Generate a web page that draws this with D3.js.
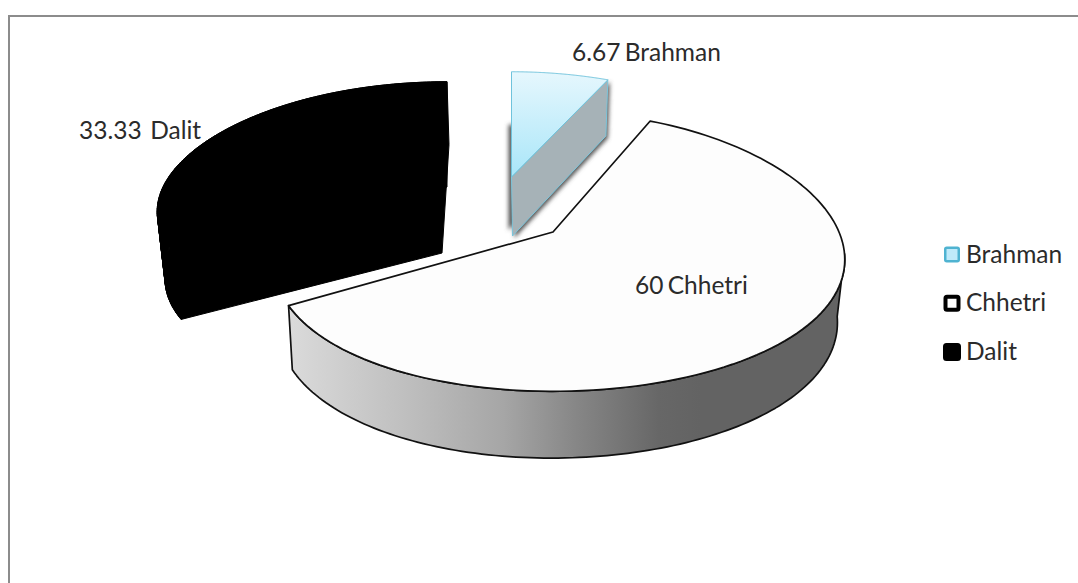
<!DOCTYPE html>
<html>
<head>
<meta charset="utf-8">
<title>Caste distribution</title>
<script src="https://cdn.jsdelivr.net/npm/d3@7"></script>
<style>
  html, body { margin: 0; padding: 0; background: #fff; }
  svg { display: block; }
  text { font-family: Lato, "Open Sans", sans-serif; fill: #2b2b2b; }
</style>
</head>
<body>
<div id="chart"></div>
<script>
// Share of respondents per caste group, in percent.
const categories = ["Brahman", "Chhetri", "Dalit"];
const shares = [6.67, 60, 33.33];
const valueLabels = ["6.67 Brahman", "60 Chhetri", "33.33  Dalit"];

const width = 1078, height = 583;

// Tilted disc with mild perspective: depth v runs from -1 (near) to +1 (far).
const perspectiveX = 0.2, perspectiveY = 0.14;
function topPoint(slice, a) {
  const s = Math.sin(a), v = Math.cos(a);
  return [
    slice.cx + (slice.r * s + slice.skew * s * s) / (1 + perspectiveX * v),
    slice.cy - slice.h * v / (1 + perspectiveY * v)
  ];
}
// The underside of the disc sits lower and is slightly narrower.
function lowPoint(slice, a) {
  const [x, y] = topPoint(slice, a);
  return [slice.cx + (x - slice.cx) * 0.98 + slice.rimDx, slice.cy + (y - slice.cy) * 1.03 + slice.depth];
}
const rimSteps = (a0, a1) => d3.range(0, 121).map(i => a0 + (a1 - a0) * i / 120);
const lineGen = d3.line();

// Each exploded wedge has its own hub on the page.
const layout = {
  Brahman: { cx: 511.5, cy: 177, r: 280, skew: 0, h: 120, depth: 59, rimDx: 0, apexDx: 1 },
  Chhetri: { cx: 553, cy: 232, r: 280, skew: 6, h: 137, depth: 62, rimDx: -1.5, apexDx: 0 },
  Dalit:   { cx: 447, cy: 187, r: 284, skew: 0, h: 120, depth: 66, rimDx: 2, apexDx: -5 }
};

const arcs = d3.pie().sort(null).value(d => d)(shares);
const wedge = name => {
  const arc = arcs[categories.indexOf(name)];
  return { slice: layout[name], a0: arc.startAngle, a1: arc.endAngle };
};

const svg = d3.select("#chart").append("svg").attr("width", width).attr("height", height);
const defs = svg.append("defs");

const topBlue = defs.append("linearGradient").attr("id", "blueFace")
  .attr("x1", 0).attr("y1", 0).attr("x2", 0).attr("y2", 1);
topBlue.append("stop").attr("offset", 0).attr("stop-color", "#e6f7fd");
topBlue.append("stop").attr("offset", 1).attr("stop-color", "#a9e6f9");

const wall = defs.append("linearGradient").attr("id", "wallShade")
  .attr("gradientUnits", "userSpaceOnUse").attr("x1", 290).attr("y1", 0).attr("x2", 700).attr("y2", 0);
[[0, "#dadada"], [0.27, "#c0c0c0"], [0.52, "#a6a6a6"], [0.7, "#868686"], [0.9, "#676767"], [1, "#636363"]]
  .forEach(([o, c]) => wall.append("stop").attr("offset", o).attr("stop-color", c));

defs.append("filter").attr("id", "softShadow").attr("x", "-30%").attr("y", "-30%").attr("width", "160%").attr("height", "160%")
  .append("feGaussianBlur").attr("stdDeviation", 2);

// Outer frame, running off the right and bottom edges.
svg.append("path").attr("d", "M9,583V16H1078").attr("fill", "none").attr("stroke", "#8c8c8c").attr("stroke-width", 2);

// Dalit: solid black, so top face, outer wall and cut face merge into one silhouette.
{
  const { slice, a0, a1 } = wedge("Dalit");
  const rim = rimSteps(a0, a1);
  const hubLow = [slice.cx + slice.apexDx, slice.cy + slice.depth];
  const g = svg.append("g").attr("fill", "#000").attr("stroke", "#000").attr("stroke-width", 1).attr("stroke-linejoin", "round");
  // The wall is built from narrow quads so the silhouette stays closed at the rim's turning point.
  const quads = d3.pairs(rim).map(([p, q]) =>
    lineGen([topPoint(slice, p), topPoint(slice, q), lowPoint(slice, q), lowPoint(slice, p)]) + "Z").join("");
  g.append("path").attr("d", quads);
  g.append("path").attr("d", lineGen(rim.map(a => topPoint(slice, a)).concat([[slice.cx, slice.cy]])) + "Z");
  g.append("path").attr("d", lineGen(rim.map(a => lowPoint(slice, a)).concat([hubLow])) + "Z");
}

// Brahman: pale blue top face with a grey cut face and a soft shadow behind.
{
  const { slice, a0, a1 } = wedge("Brahman");
  const rim = rimSteps(a0, a1).map(a => topPoint(slice, a));
  const hub = [slice.cx, slice.cy];
  const lowHub = [slice.cx + slice.apexDx, slice.cy + slice.depth];
  const face = rim.concat([hub]);
  const cut = [topPoint(slice, a1), hub, lowHub, lowPoint(slice, a1)];

  const shadow = svg.append("g").attr("filter", "url(#softShadow)").attr("fill", "#555");
  shadow.append("path").attr("d", lineGen(face.map(([x, y]) => [x - 3, y + 53])) + "Z");
  shadow.append("path").attr("d", lineGen(cut.map(([x, y]) => [x + 2, y + 2])) + "Z");

  svg.append("path").attr("d", lineGen(cut) + "Z").attr("fill", "#a6b2b7").attr("stroke", "#7cc6dc").attr("stroke-width", 1);
  svg.append("path").attr("d", lineGen(face) + "Z").attr("fill", "url(#blueFace)").attr("stroke", "#6fc3dc").attr("stroke-width", 1);
}

// Chhetri: shaded outer wall under a near-white top face.
{
  const { slice, a0, a1 } = wedge("Chhetri");
  const wallRim = rimSteps(Math.PI * 0.55, a1);
  const wallPts = wallRim.map(a => topPoint(slice, a))
    .concat(wallRim.slice().reverse().map(a => lowPoint(slice, a)));
  svg.append("path").attr("d", lineGen(wallPts) + "Z").attr("fill", "url(#wallShade)")
    .attr("stroke", "#111").attr("stroke-width", 1.7).attr("stroke-linejoin", "round");
  const face = rimSteps(a0, a1).map(a => topPoint(slice, a)).concat([[slice.cx, slice.cy]]);
  svg.append("path").attr("d", lineGen(face) + "Z").attr("fill", "#fdfdfd")
    .attr("stroke", "#111").attr("stroke-width", 1.7).attr("stroke-linejoin", "round");
}

// Value labels beside each wedge.
const labelPos = [[572, 61], [635, 294], [79, 139]];
svg.selectAll("text.value").data(valueLabels).join("text").attr("class", "value")
  .attr("x", (d, i) => labelPos[i][0]).attr("y", (d, i) => labelPos[i][1])
  .attr("font-size", 24.5).attr("word-spacing", -2).style("white-space", "pre").text(d => d);

// Legend.
const legendY = d3.scalePoint().domain(categories).range([254.5, 352]);
const legendStyle = {
  Brahman: { size: 13.5, fill: "#bfeafa", stroke: "#4fb3d1", sw: 2.5 },
  Chhetri: { size: 13, fill: "#fff", stroke: "#000", sw: 4 },
  Dalit:   { size: 14, fill: "#000", stroke: "#000", sw: 4 }
};
const legend = svg.selectAll("g.legend").data(categories).join("g").attr("class", "legend")
  .attr("transform", d => `translate(952,${legendY(d)})`);
legend.append("rect")
  .attr("x", d => -legendStyle[d].size / 2).attr("y", d => -legendStyle[d].size / 2)
  .attr("width", d => legendStyle[d].size).attr("height", d => legendStyle[d].size)
  .attr("rx", 1.5)
  .attr("fill", d => legendStyle[d].fill).attr("stroke", d => legendStyle[d].stroke).attr("stroke-width", d => legendStyle[d].sw);
legend.append("text").attr("x", 14).attr("y", 8).attr("font-size", 24.5).text(d => d);
</script>
</body>
</html>
